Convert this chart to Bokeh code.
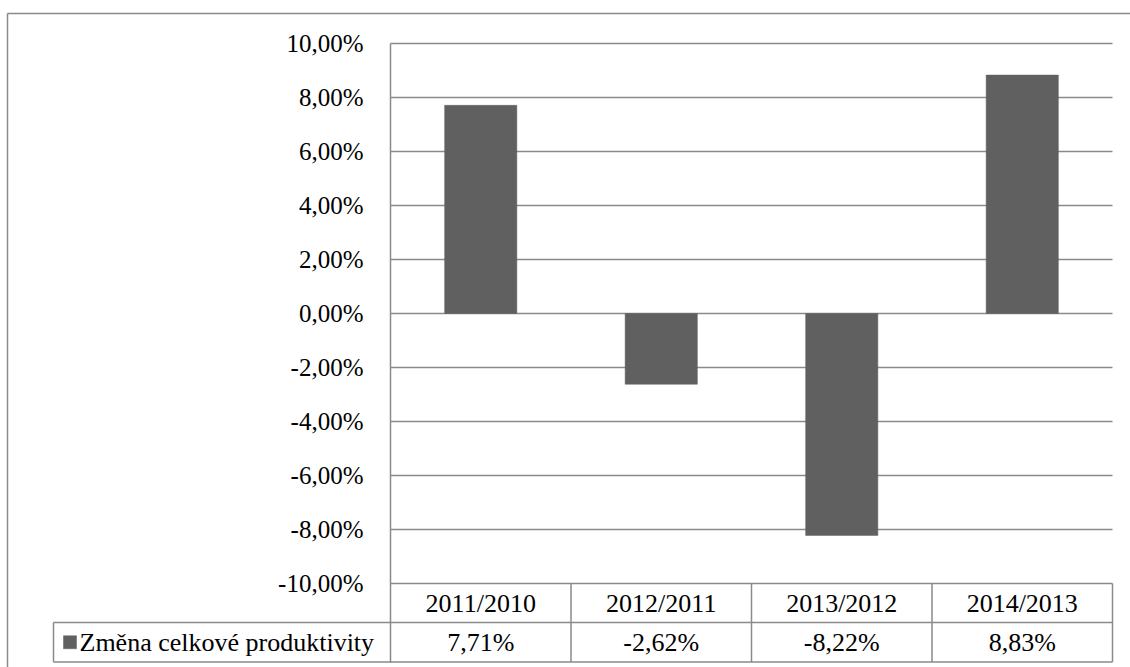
from bokeh.plotting import figure
from bokeh.models import (LinearAxis, FixedTicker, CustomJSTickFormatter, Range1d,
                          ColumnDataSource)
from bokeh.core.properties import value
from bokeh.embed import file_html
from bokeh.resources import INLINE

# ---- data ----
categories = ["2011/2010", "2012/2011", "2013/2012", "2014/2013"]
values = [7.71, -2.62, -8.22, 8.83]           # percent
series_name = "Změna celkové produktivity"
y_ticks = [-10, -8, -6, -4, -2, 0, 2, 4, 6, 8, 10]

BAR = "#606060"
GRID = "#8a8a8a"
FONT = "Liberation Serif"

W, H = 1130, 667
# pixel geometry of the plot area (x: 0..4 categories, y: -10..10 %)
PX0, PX_UNIT = 390.0, 180.5
PY10, PY_UNIT = 43.0, 27.0

def xd(px):
    return (px - PX0) / PX_UNIT

def yd(py):
    return 10 - (py - PY10) / PY_UNIT

p = figure(width=W, height=H, output_backend="svg", toolbar_location=None,
           x_axis_location=None, y_axis_location=None,
           x_range=Range1d(xd(0), xd(W)), y_range=Range1d(yd(H), yd(0)),
           min_border=0, min_border_left=0, min_border_right=0,
           min_border_top=0, min_border_bottom=0)
p.outline_line_color = None
p.background_fill_color = "white"
p.border_fill_color = "white"
p.xgrid.grid_line_color = None
p.ygrid.grid_line_color = None

n = len(categories)
xc = [i + 0.5 for i in range(n)]
ymin_plot, ymax_plot = y_ticks[0], y_ticks[-1]

# outer chart border (left and top visible)
p.segment(x0=[xd(7), xd(7)], y0=[yd(13), yd(13)], x1=[xd(7), xd(W + 5)], y1=[yd(H + 5), yd(13)],
          line_color=GRID, line_width=1.5)

# horizontal gridlines
p.segment(x0=[0] * len(y_ticks), x1=[n] * len(y_ticks), y0=y_ticks, y1=y_ticks,
          line_color=GRID, line_width=1.5)

# bars
src = ColumnDataSource(dict(x=xc, top=values, cat=categories))
p.vbar(x="x", top="top", bottom=0, width=0.4, source=src,
       fill_color=BAR, line_color=BAR, line_width=0.5)

# y axis
ax = LinearAxis(fixed_location=0, bounds=(yd(661.5), ymax_plot),
                ticker=FixedTicker(ticks=y_ticks),
                formatter=CustomJSTickFormatter(code="return tick.toFixed(2).replace('.', ',') + '%';"))
ax.major_tick_out = 0
ax.major_tick_in = 0
ax.minor_tick_out = 0
ax.minor_tick_in = 0
ax.axis_line_color = GRID
ax.axis_line_width = 1.5
ax.major_label_text_font = FONT
ax.major_label_text_font_size = "25px"
ax.major_label_text_color = "black"
ax.major_label_standoff = 27
p.add_layout(ax, "left")

# data table
row_div = yd(622)
tbl_bot = yd(661.5)
leg_left = xd(53)
p.segment(x0=[leg_left, leg_left], x1=[n, n], y0=[row_div, tbl_bot], y1=[row_div, tbl_bot],
          line_color=GRID, line_width=1.5)
p.segment(x0=list(range(1, n + 1)), x1=list(range(1, n + 1)),
          y0=[ymin_plot] * n, y1=[tbl_bot] * n, line_color=GRID, line_width=1.5)
p.segment(x0=[leg_left], x1=[leg_left], y0=[row_div], y1=[tbl_bot],
          line_color=GRID, line_width=1.5)

row1_y = (ymin_plot + row_div) / 2
row2_y = (row_div + tbl_bot) / 2
p.text(x=xc, y=[row1_y] * n, text=categories, text_align="center", text_baseline="middle",
       text_font=value(FONT), text_font_size="26px", text_color="black")
val_labels = [f"{v:.2f}".replace(".", ",") + "%" for v in values]
p.text(x=xc, y=[row2_y] * n, text=val_labels, text_align="center", text_baseline="middle",
       text_font=value(FONT), text_font_size="26px", text_color="black")

# legend key + series name
p.scatter(x=[xd(69.5)], y=[row2_y], marker="square", size=13,
          fill_color=BAR, line_color=BAR, line_width=0.5)
p.text(x=[xd(79)], y=[row2_y], text=[series_name], text_align="left", text_baseline="middle",
       text_font=value(FONT), text_font_size="26px", text_color="black")

open("out.html", "w").write(file_html(p, INLINE))
